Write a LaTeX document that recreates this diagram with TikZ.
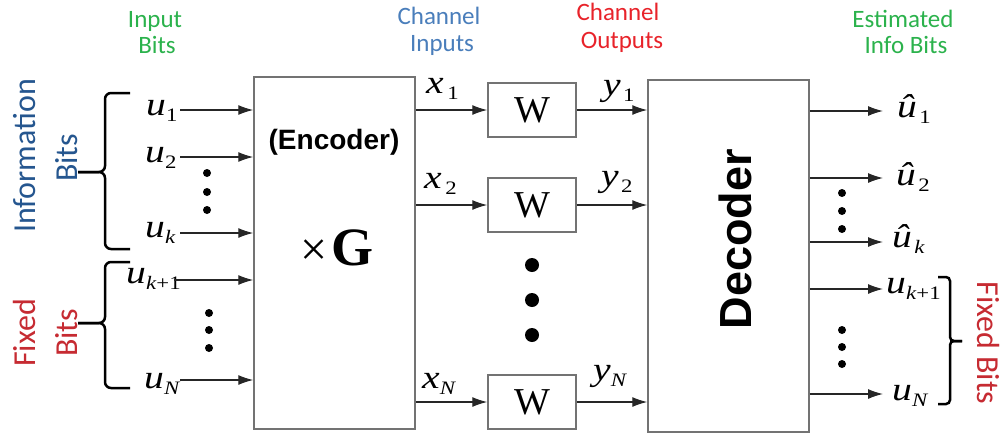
\documentclass[tikz,border=0pt]{standalone}
\usepackage{fontspec}
\setmainfont{Liberation Serif}
\newfontfamily\lblfont{Carlito}
\newfontfamily\arialf{Liberation Sans}
\usetikzlibrary{arrows.meta}
\definecolor{lgreen}{HTML}{2BB24C}
\definecolor{chblue}{HTML}{4A7EBB}
\definecolor{chred}{HTML}{E8232A}
\definecolor{infoblue}{HTML}{25568F}
\definecolor{fixred}{HTML}{C62B32}
\newcommand\vsub[2]{\scalebox{1.2}[1]{\textit{#1}\kern0pt\raisebox{-6pt}{\fontsize{19}{19}\selectfont #2}}}
\newcommand\vhat[2]{\scalebox{1.2}[1]{\textit{\^u}\kern0pt\raisebox{-6pt}{\fontsize{19}{19}\selectfont #2}}}
\begin{document}
\begin{tikzpicture}[x=1pt,y=-1pt,
  arr/.style={draw=black!85, line width=1.2pt, -{Latex[length=15pt,width=10pt]}},
  box/.style={draw=black!55, line width=1.5pt, inner sep=0pt},
  lab/.style={font=\lblfont\fontsize{25}{28}\selectfont, anchor=base, inner sep=0pt},
  rlab/.style={font=\lblfont\fontsize{32}{32}\selectfont, anchor=base, inner sep=0pt},
  var/.style={anchor=base west, inner sep=0pt, font=\fontsize{33}{33}\selectfont},
  brc/.style={line width=2.5pt, rounded corners=6pt},
  brcs/.style={line width=2.5pt, rounded corners=4pt},
  dotb/.style={circle, fill=black, inner sep=0pt, minimum size=14pt},
  dots/.style={circle, fill=black, inner sep=0pt, minimum size=8pt}
]
\useasboundingbox (0,0) rectangle (1006,434);

% top labels
\node[lab, text=lgreen] (tin1) at (155,27) {Input};
\node[lab, text=lgreen] (tin2) at (157,53) {Bits};
\node[lab, text=chblue] (tci1) at (439,24) {Channel};
\node[lab, text=chblue] (tci2) at (442,51) {Inputs};
\node[lab, text=chred] (tco1) at (618,20) {Channel};
\node[lab, text=chred] (tco2) at (622,48) {Outputs};
\node[lab, text=lgreen] (tes1) at (903,27) {Estimated};
\node[lab, text=lgreen] (tes2) at (906,53) {Info Bits};

% side labels
\node[rlab, rotate=90, text=infoblue] (inf1) at (35,156) {Information};
\node[rlab, rotate=90, text=infoblue] (inf2) at (77,158) {Bits};
\node[rlab, rotate=90, text=fixred] (fx1) at (35,333) {Fixed};
\node[rlab, rotate=90, text=fixred] (fx2) at (77,333) {Bits};
\node[rlab, rotate=-90, text=fixred] (fxr) at (977,343) {Fixed Bits};

% brackets
\draw[brc] (130,93) -- (105,93) -- (105,172) -- (78,172);
\draw[brc] (130,249) -- (105,249) -- (105,172) -- (78,172);
\draw[brc] (130,262) -- (105,262) -- (105,323) -- (78,323);
\draw[brc] (130,388) -- (105,388) -- (105,323) -- (78,323);
\draw[brcs] (938,277) -- (950,277) -- (950,341) -- (962,341);
\draw[brcs] (938,404) -- (950,404) -- (950,341) -- (962,341);

% encoder
\node[box, minimum width=161, minimum height=352] (enc) at (334.5,253) {};
\node[inner sep=0pt, font=\arialf\bfseries\fontsize{28}{28}\selectfont] (enctxt) at (334,142) {(Encoder)};
\node[inner sep=0pt, anchor=base] (gtxt) at (337,265) {{\fontsize{48}{48}\selectfont ×}\kern4pt{\fontsize{54}{54}\selectfont\bfseries G}};

% input labels and arrows
\node[var] (u1) at (146,115) {\vsub{u}{1}};
\node[var] (u2) at (145,162) {\vsub{u}{2}};
\node[var] (uk) at (145,237) {\vsub{u}{\textit{k}}};
\node[var] (uk1) at (126,283) {\vsub{u}{\textit{k}+1}};
\node[var] (uN) at (144,388) {\vsub{u}{\textit{N}}};
\coordinate (i1) at (180,110);
\coordinate (i2) at (180,157);
\coordinate (ik) at (180,233);
\coordinate (ik1) at (174,280);
\coordinate (iN) at (180,380);
\foreach \c in {i1,i2,ik,ik1,iN} \draw[arr] (\c) -- (\c -| enc.west);
\node[dots] (ld1) at (207,173) {};
\node[dots] (ld2) at (207,192) {};
\node[dots] (ld3) at (207,210) {};
\node[dots] (ld4) at (209,313) {};
\node[dots] (ld5) at (209,330) {};
\node[dots] (ld6) at (209,348) {};

% channels
\node[box, minimum width=88, minimum height=54, font=\fontsize{38}{38}\selectfont] (w1) at (532,110) {W};
\node[box, minimum width=88, minimum height=54, font=\fontsize{38}{38}\selectfont] (w2) at (532,205) {W};
\node[box, minimum width=88, minimum height=54, font=\fontsize{38}{38}\selectfont] (wN) at (532,402) {W};
\node[dotb] (md1) at (532,265) {};
\node[dotb] (md2) at (532,300) {};
\node[dotb] (md3) at (532,335) {};

% decoder
\node[box, minimum width=161, minimum height=352] (dec) at (728.5,256) {};
\node[inner sep=0pt, rotate=90, font=\arialf\bfseries\fontsize{45}{45}\selectfont] (dectxt) at (735,239) {Decoder};

\foreach \w in {w1,w2,wN} {
  \draw[arr] (enc.east |- \w) -- (\w.west);
  \draw[arr] (\w.east) -- (\w -| dec.west);
}
\node[var] (x1) at (426,93) {\vsub{x}{\kern3pt 1}};
\node[var] (x2) at (424,188) {\vsub{x}{\kern3pt 2}};
\node[var] (xN) at (422,388) {\vsub{x}{\textit{N}}};
\node[var] (y1) at (603,95) {\vsub{y}{\kern2pt 1}};
\node[var] (y2) at (601,186) {\vsub{y}{\kern2pt 2}};
\node[var] (yN) at (593,380) {\vsub{y}{\textit{N}}};

% decoder outputs
\coordinate (o1) at (883,111);
\coordinate (o2) at (883,178);
\coordinate (ok) at (883,242);
\coordinate (ok1) at (883,289);
\coordinate (oN) at (883,394);
\foreach \c in {o1,o2,ok,ok1,oN} \draw[arr] (\c -| dec.east) -- (\c);
\node[var] (hu1) at (897,117) {\vhat{u}{\kern2pt 1}};
\node[var] (hu2) at (896,185) {\vhat{u}{\kern2pt 2}};
\node[var] (huk) at (892,247) {\vhat{u}{\kern2pt\textit{k}}};
\node[var] (ru1) at (886,293) {\vsub{u}{\textit{k}+1}};
\node[var] (ruN) at (892,400) {\vsub{u}{\textit{N}}};
\node[dots] (rd1) at (842,193) {};
\node[dots] (rd2) at (842,211) {};
\node[dots] (rd3) at (842,229) {};
\node[dots] (rd4) at (842,330) {};
\node[dots] (rd5) at (842,347) {};
\node[dots] (rd6) at (842,364) {};
\end{tikzpicture}
\end{document}
